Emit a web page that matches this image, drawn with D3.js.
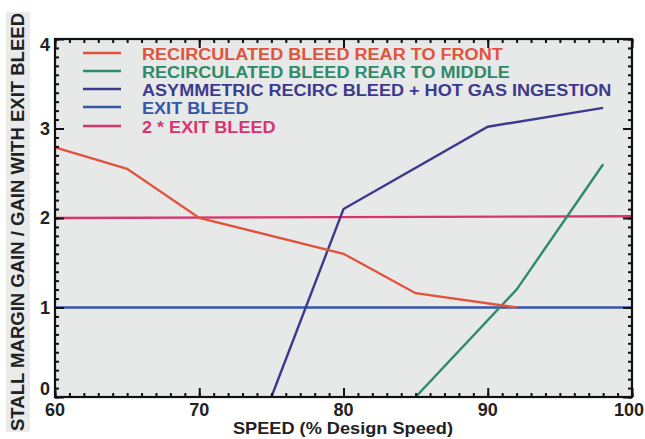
<!DOCTYPE html>
<head lang="en">
<meta charset="utf-8">
<title>Stall margin gain vs speed</title>
<style>
body { margin:0; background:#fff; }
* { font-family:"Liberation Sans", Arial, sans-serif; }
</style>
<script src="https://cdnjs.cloudflare.com/ajax/libs/d3/7.8.5/d3.min.js"></script>
</head>
<body>
<script>
// series: [speed %, gain]
var rearToFront = [[60, 2.79], [65, 2.55], [70, 2.0], [80, 1.6], [85, 1.16], [92, 1.0]];
var rearToMiddle = [[85, 0], [92, 1.2], [98, 2.6]];
var asymmetric = [[75, 0], [80, 2.1], [90, 3.02], [98, 3.23]];
var exitBleed = [[60, 1.0], [100, 1.0]];
var twoExitBleed = [[60, 2.0], [100, 2.02]];

var seriesNames = ["RECIRCULATED BLEED REAR TO FRONT", "RECIRCULATED BLEED REAR TO MIDDLE",
	"ASYMMETRIC RECIRC BLEED + HOT GAS INGESTION", "EXIT BLEED", "2 * EXIT BLEED"];
var seriesColors = ["#e2533c", "#2f8a68", "#3d3a8e", "#3557a8", "#d93470"];
var seriesData = [rearToFront, rearToMiddle, asymmetric, exitBleed, twoExitBleed];

var xTicks = [60, 70, 80, 90, 100];
var yTicks = [0, 1, 2, 3, 4];

var width = 645, height = 439;
var mLeft = 55, mRight = 632, mTop = 39, mBottom = 397;

var svg = d3.select("body").append("svg")
	.attr("width", width)
	.attr("height", height);

var x = d3.scaleLinear().domain([60, 100]).range([mLeft, mRight]);
var y = d3.scaleLinear().domain([0, 4]).range([mBottom, mTop]);

// grey band behind the y title (scanned look)
svg.append("rect")
	.attr("x", 6).attr("y", 12).attr("width", 24).attr("height", 420)
	.style("fill", "#e9eaea");

svg.append("rect")
	.attr("x", mLeft).attr("y", mTop)
	.attr("width", mRight - mLeft).attr("height", mBottom - mTop)
	.style("fill", "#e7e8e8");

var line = d3.line()
	.x(function(d) { return x(d[0]); })
	.y(function(d) { return y(d[1]); });

var order = [3, 4, 1, 2, 0];
order.forEach(function(i) {
	svg.append("path")
		.datum(seriesData[i])
		.attr("d", line)
		.style("fill", "none")
		.style("stroke", seriesColors[i])
		.style("stroke-width", 2.4);
});

// axes with minor ticks pointing inward
var minorX = d3.range(60, 101, 1), minorY = d3.range(0, 4.001, 0.1);

function tickMarks(g, axis) {
	g.call(axis);
	g.select(".domain").remove();
	g.selectAll("line").style("stroke", "#111").style("stroke-width", 2);
}

function frameTicks(xv, yv, size) {
	svg.append("g").attr("transform", "translate(0," + mBottom + ")")
		.call(tickMarks, d3.axisTop(x).tickValues(xv).tickSize(size).tickFormat(""));
	svg.append("g").attr("transform", "translate(0," + mTop + ")")
		.call(tickMarks, d3.axisBottom(x).tickValues(xv).tickSize(size).tickFormat(""));
	svg.append("g").attr("transform", "translate(" + mLeft + ",0)")
		.call(tickMarks, d3.axisRight(y).tickValues(yv).tickSize(size).tickFormat(""));
	svg.append("g").attr("transform", "translate(" + mRight + ",0)")
		.call(tickMarks, d3.axisLeft(y).tickValues(yv).tickSize(size).tickFormat(""));
}
frameTicks(minorX, minorY, 4);
frameTicks(xTicks, yTicks, 9);

svg.append("rect")
	.attr("x", mLeft).attr("y", mTop)
	.attr("width", mRight - mLeft).attr("height", mBottom - mTop)
	.style("fill", "none").style("stroke", "#111").style("stroke-width", 2.2);

// tick labels
svg.selectAll(".xl").data(xTicks).enter().append("text")
	.attr("x", function(d) { return d == 100 ? width - 1 : x(d); })
	.attr("y", mBottom + 19)
	.attr("text-anchor", function(d) { return d == 100 ? "end" : "middle"; })
	.style("font-size", "18px").style("font-weight", "bold").style("fill", "#222")
	.text(function(d) { return d; });

svg.selectAll(".yl").data(yTicks).enter().append("text")
	.attr("x", mLeft - 5)
	.attr("y", function(d) { return y(d) + (d == 4 ? 12 : d == 0 ? -2 : 6); })
	.attr("text-anchor", "end")
	.style("font-size", "18px").style("font-weight", "bold").style("fill", "#222")
	.text(function(d) { return d; });

// axis titles
svg.append("text")
	.attr("x", 343).attr("y", 434)
	.attr("text-anchor", "middle")
	.style("font-size", "17px").style("font-weight", "bold").style("fill", "#222")
	.attr("textLength", 220).attr("lengthAdjust", "spacingAndGlyphs")
	.text("SPEED (% Design Speed)");

svg.append("text")
	.attr("transform", "translate(24,222) rotate(-90)")
	.attr("text-anchor", "middle")
	.attr("textLength", 418).attr("lengthAdjust", "spacingAndGlyphs")
	.style("font-size", "18px").style("font-weight", "bold").style("fill", "#222")
	.text("STALL MARGIN GAIN  / GAIN WITH EXIT BLEED");

// legend
var legendY = [53, 71, 89, 107, 126];
var legend = svg.selectAll(".leg").data(seriesNames).enter().append("g")
	.attr("transform", function(d, i) { return "translate(0," + legendY[i] + ")"; });
legend.append("line")
	.attr("x1", 83).attr("x2", 121).attr("y1", 0).attr("y2", 0)
	.style("stroke", function(d, i) { return seriesColors[i]; })
	.style("stroke-width", 2.4);
legend.append("text")
	.attr("transform", "translate(142,6.5) scale(1.13,1)")
	.style("font-size", "16px").style("font-weight", "bold")
	.style("fill", function(d, i) { return seriesColors[i]; })
	.text(function(d) { return d; });
</script>
</body>
</html>
